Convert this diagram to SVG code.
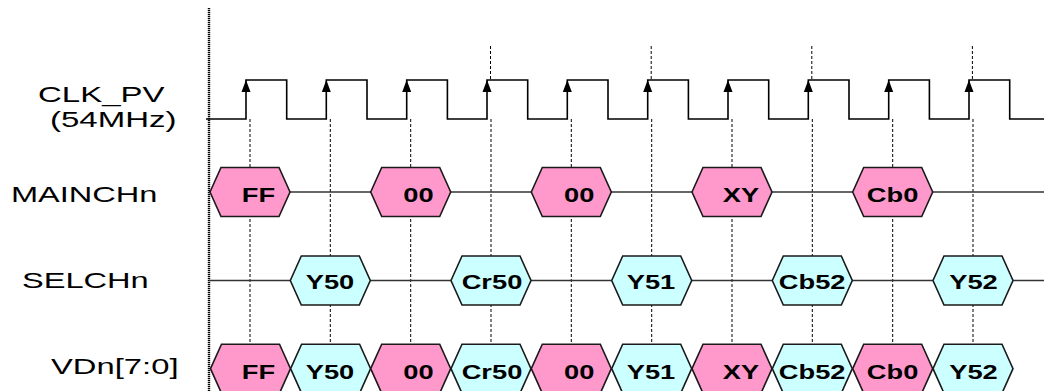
<svg xmlns="http://www.w3.org/2000/svg" xmlns:xlink="http://www.w3.org/1999/xlink" width="1044" height="391" viewBox="0 0 1044 391">
<style>
.lbl{font-family:"Liberation Sans",Arial,sans-serif;font-size:22px;fill:#000}
.ht{font-family:"Liberation Sans",Arial,sans-serif;font-size:20.5px;font-weight:bold;fill:#000;text-anchor:middle}
.pink{fill:#FF99CC;stroke:#1a1a1a;stroke-width:1.6}
.cyan{fill:#CCFFFF;stroke:#1a1a1a;stroke-width:1.6}
.guide{stroke:#000;stroke-width:1;stroke-dasharray:3,2;fill:none}
.sig{stroke:#333;stroke-width:1.6;fill:none}
</style>
<defs>
<path id="hex" d="M-40,0 L-29,-24.5 H29 L40,0 L29,24.5 H-29 Z"/>
<path id="arr" d="M0,0 L-4.5,12 L4.5,12 Z" fill="#000"/>
</defs>
<rect width="1044" height="391" fill="#fff"/>

<g id="labels">
<text class="lbl" transform="translate(38,101.7) scale(1.5,1)">CLK_PV</text>
<text class="lbl" transform="translate(50,127) scale(1.5,1)">(54MHz)</text>
<text class="lbl" transform="translate(11,201.7) scale(1.48,1)">MAINCHn</text>
<text class="lbl" transform="translate(22,288.3) scale(1.48,1)">SELCHn</text>
<text class="lbl" transform="translate(51,374) scale(1.49,1)">VDn[7:0]</text>
</g>

<g id="connectors">
<line x1="209" y1="8" x2="209" y2="391" stroke="#000" stroke-width="2.4" stroke-dasharray="1.3,0.7"/>
<g class="guide">
<line x1="250" y1="119" x2="250" y2="391"/>
<line x1="330.3" y1="119" x2="330.3" y2="391"/>
<line x1="410.7" y1="119" x2="410.7" y2="391"/>
<line x1="491" y1="119" x2="491" y2="391"/>
<line x1="571.3" y1="119" x2="571.3" y2="391"/>
<line x1="651.7" y1="119" x2="651.7" y2="391"/>
<line x1="732" y1="119" x2="732" y2="391"/>
<line x1="812.3" y1="119" x2="812.3" y2="391"/>
<line x1="892.7" y1="119" x2="892.7" y2="391"/>
<line x1="973" y1="119" x2="973" y2="391"/>
<line x1="490.5" y1="46" x2="490.5" y2="80"/>
<line x1="651.2" y1="46" x2="651.2" y2="80"/>
<line x1="811.8" y1="46" x2="811.8" y2="80"/>
<line x1="972.4" y1="46" x2="972.4" y2="80"/>
</g>
<path id="clk" fill="none" stroke="#000" stroke-width="1.6" d="M206,119 H246 V80 H286.7 V119 H326.3 V80 H367 V119 H406.7 V80 H447.4 V119 H487 V80 H527.7 V119 H567.3 V80 H608 V119 H647.7 V80 H688.4 V119 H728 V80 H768.7 V119 H808.3 V80 H849 V119 H888.7 V80 H929.4 V119 H969 V80 H1009.7 V119 H1044"/>
<g id="edges">
<use xlink:href="#arr" x="246" y="80"/>
<use xlink:href="#arr" x="326.3" y="80"/>
<use xlink:href="#arr" x="406.7" y="80"/>
<use xlink:href="#arr" x="487" y="80"/>
<use xlink:href="#arr" x="567.3" y="80"/>
<use xlink:href="#arr" x="647.7" y="80"/>
<use xlink:href="#arr" x="728" y="80"/>
<use xlink:href="#arr" x="808.3" y="80"/>
<use xlink:href="#arr" x="888.7" y="80"/>
<use xlink:href="#arr" x="969" y="80"/>
</g>
<line class="sig" x1="209" y1="192" x2="1044" y2="192"/>
<line class="sig" x1="209" y1="280.5" x2="1044" y2="280.5"/>
</g>

<g id="main-FF"><use xlink:href="#hex" class="pink" x="250" y="192"/><text class="ht" transform="translate(258.5,202.3) scale(1.33,1)">FF</text></g>
<g id="main-00a"><use xlink:href="#hex" class="pink" x="410.7" y="192"/><text class="ht" transform="translate(418.5,202.3) scale(1.33,1)">00</text></g>
<g id="main-00b"><use xlink:href="#hex" class="pink" x="571.3" y="192"/><text class="ht" transform="translate(579.2,202.3) scale(1.33,1)">00</text></g>
<g id="main-XY"><use xlink:href="#hex" class="pink" x="732" y="192"/><text class="ht" transform="translate(741,202.3) scale(1.33,1)">XY</text></g>
<g id="main-Cb0"><use xlink:href="#hex" class="pink" x="892.7" y="192"/><text class="ht" transform="translate(892.6,202.3) scale(1.33,1)">Cb0</text></g>

<g id="sel-Y50"><use xlink:href="#hex" class="cyan" x="330.3" y="280.5"/><text class="ht" transform="translate(330,288.5) scale(1.33,1)">Y50</text></g>
<g id="sel-Cr50"><use xlink:href="#hex" class="cyan" x="491" y="280.5"/><text class="ht" transform="translate(492,288.5) scale(1.33,1)">Cr50</text></g>
<g id="sel-Y51"><use xlink:href="#hex" class="cyan" x="651.7" y="280.5"/><text class="ht" transform="translate(651,288.5) scale(1.33,1)">Y51</text></g>
<g id="sel-Cb52"><use xlink:href="#hex" class="cyan" x="812.3" y="280.5"/><text class="ht" transform="translate(812.2,288.5) scale(1.33,1)">Cb52</text></g>
<g id="sel-Y52"><use xlink:href="#hex" class="cyan" x="973" y="280.5"/><text class="ht" transform="translate(973.5,288.5) scale(1.33,1)">Y52</text></g>

<g id="vd-FF"><use xlink:href="#hex" class="pink" x="250.5" y="368.7"/><text class="ht" transform="translate(258.5,379.3) scale(1.33,1)">FF</text></g>
<g id="vd-Y50"><use xlink:href="#hex" class="cyan" x="330.6" y="368.7"/><text class="ht" transform="translate(330,379.3) scale(1.33,1)">Y50</text></g>
<g id="vd-00a"><use xlink:href="#hex" class="pink" x="410.7" y="368.7"/><text class="ht" transform="translate(418.5,379.3) scale(1.33,1)">00</text></g>
<g id="vd-Cr50"><use xlink:href="#hex" class="cyan" x="491" y="368.7"/><text class="ht" transform="translate(492,379.3) scale(1.33,1)">Cr50</text></g>
<g id="vd-00b"><use xlink:href="#hex" class="pink" x="571.3" y="368.7"/><text class="ht" transform="translate(579.2,379.3) scale(1.33,1)">00</text></g>
<g id="vd-Y51"><use xlink:href="#hex" class="cyan" x="651.7" y="368.7"/><text class="ht" transform="translate(651,379.3) scale(1.33,1)">Y51</text></g>
<g id="vd-XY"><use xlink:href="#hex" class="pink" x="732" y="368.7"/><text class="ht" transform="translate(741,379.3) scale(1.33,1)">XY</text></g>
<g id="vd-Cb52"><use xlink:href="#hex" class="cyan" x="812.3" y="368.7"/><text class="ht" transform="translate(812.2,379.3) scale(1.33,1)">Cb52</text></g>
<g id="vd-Cb0"><use xlink:href="#hex" class="pink" x="892.7" y="368.7"/><text class="ht" transform="translate(892.6,379.3) scale(1.33,1)">Cb0</text></g>
<g id="vd-Y52"><use xlink:href="#hex" class="cyan" x="973" y="368.7"/><text class="ht" transform="translate(973.5,379.3) scale(1.33,1)">Y52</text></g>
</svg>
